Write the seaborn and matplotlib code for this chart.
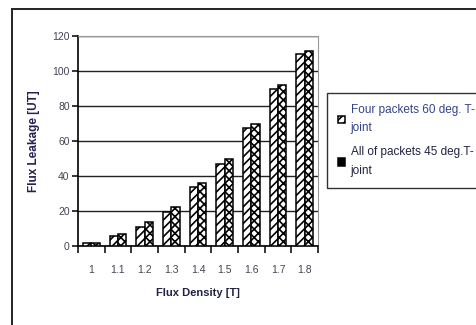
import matplotlib
matplotlib.use('Agg')
import matplotlib.pyplot as plt
import seaborn as sns
import pandas as pd
from matplotlib.patches import Rectangle

FLUX_DENSITY = ['1', '1.1', '1.2', '1.3', '1.4', '1.5', '1.6', '1.7', '1.8']
FOUR_60 = [2, 5.5, 11, 19.5, 34, 47, 67.5, 90, 110]
ALL_45 = [2, 7, 13.5, 22.5, 36, 49.5, 69.5, 92, 111.5]
SERIES = ['Four packets 60 deg. T-\njoint', 'All of packets 45 deg.T-\njoint']


def main():
    sns.set_style('white')
    plt.rcParams['font.family'] = ['Liberation Sans', 'DejaVu Sans']
    plt.rcParams['hatch.linewidth'] = 1.2

    rows = []
    for x, a, b in zip(FLUX_DENSITY, FOUR_60, ALL_45):
        rows.append([x, a, SERIES[0]])
        rows.append([x, b, SERIES[1]])
    df = pd.DataFrame.from_records(rows, columns=['Flux Density', 'Flux Leakage', 'Series'])

    fig = plt.figure(figsize=(4.76, 3.25), dpi=100)
    ax = fig.add_axes([78 / 476, 1 - 246 / 325, 240 / 476, 210 / 325])

    sns.barplot(data=df, x='Flux Density', y='Flux Leakage', hue='Series',
                palette=['white', 'white'], edgecolor='black', linewidth=1.1,
                width=0.62, gap=0, ax=ax, zorder=3)

    hatches = ['////', 'xxxx']
    for cont, h in zip(ax.containers, hatches):
        for bar in cont:
            bar.set_hatch(h)
            bar.set_zorder(3)

    handles, labels = ax.get_legend_handles_labels()
    if ax.get_legend() is not None:
        ax.get_legend().remove()

    ax.set_ylim(0, 120)
    ax.set_xlim(-0.5, 8.5)
    ax.set_yticks(range(0, 121, 20))
    ax.yaxis.grid(True, color='#222222', linewidth=1.0, zorder=0)
    ax.set_axisbelow(True)

    for s in ['top', 'right']:
        ax.spines[s].set_color('#999999')
        ax.spines[s].set_linewidth(0.8)
    for s in ['left', 'bottom']:
        ax.spines[s].set_color('black')
        ax.spines[s].set_linewidth(1.2)

    ax.set_xticks([i - 0.5 for i in range(10)], minor=True)
    ax.tick_params(axis='x', which='major', length=0, pad=14,
                   labelsize=7.5, labelcolor='#444455')
    ax.tick_params(axis='x', which='minor', length=5, width=1.1, color='black',
                   direction='out', bottom=True)
    ax.tick_params(axis='y', length=4, width=1.1, color='black', direction='out',
                   left=True, labelsize=7.5, labelcolor='#444455', pad=2)

    ax.set_xlabel('Flux Density [T]', fontsize=8, fontweight='bold',
                  color='#222244', labelpad=9)
    ax.set_ylabel('Flux Leakage [UT]', fontsize=8.5, fontweight='bold',
                  color='#222255', labelpad=9)

    leg = fig.legend(handles, labels, loc='upper left',
                     bbox_to_anchor=(327 / 476, 1 - 93 / 325),
                     fontsize=8.5, frameon=True, fancybox=False,
                     edgecolor='black', handlelength=0.6, handleheight=0.6,
                     handletextpad=0.5, labelspacing=1.0, borderpad=0.9,
                     borderaxespad=0)
    leg.get_frame().set_linewidth(1.0)
    for t in leg.texts:
        t.set_linespacing(1.75)
    leg.texts[0].set_color('#334488')
    leg.texts[1].set_color('#222244')
    for hp, h in zip(leg.legend_handles, ['////', 'xxxxxx']):
        hp.set_hatch(h)
        hp.set_edgecolor('black')
    leg.legend_handles[1].set_facecolor('black')

    frame = Rectangle((12 / 476, -0.05), 1.2, 1.05 - 9 / 325,
                      transform=fig.transFigure, fill=False,
                      edgecolor='#222222', linewidth=1.4)
    fig.patches.append(frame)

    fig.savefig('out.png', dpi=100)


if __name__ == '__main__':
    main()
